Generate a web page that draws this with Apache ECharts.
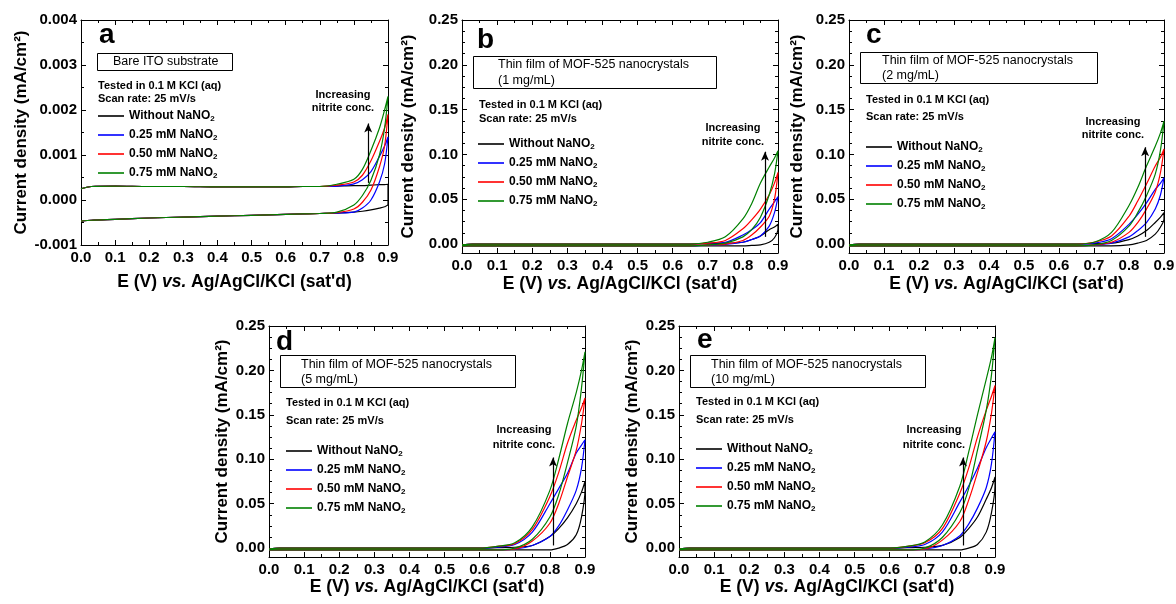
<!DOCTYPE html>
<html>
<head>
<meta charset="utf-8">
<script src="https://cdn.jsdelivr.net/npm/echarts@6/dist/echarts.min.js"></script>
<style>
html,body{margin:0;padding:0;background:#fff;}
#chart{width:1176px;height:604px;}
</style>
</head>
<body>
<div id="chart"></div>
<script>
// ---------------- DATA ----------------
const E = [0, 0.03, 0.1, 0.2, 0.3, 0.4, 0.5, 0.6, 0.65, 0.7, 0.75, 0.8, 0.825, 0.85, 0.875, 0.89, 0.9];
const SERIES_NAMES = ['Without NaNO2', '0.25 mM NaNO2', '0.50 mM NaNO2', '0.75 mM NaNO2'];
const X_TICKS = [0, 0.1, 0.2, 0.3, 0.4, 0.5, 0.6, 0.7, 0.8, 0.9];
const Y_TICKS_A = [-0.001, 0, 0.001, 0.002, 0.003, 0.004];
const Y_TICKS = [0, 0.05, 0.1, 0.15, 0.2, 0.25];
const Y_MINOR = [0.0125, 0.025, 0.0375, 0.0625, 0.075, 0.0875, 0.1125, 0.125, 0.1375, 0.1625, 0.175, 0.1875, 0.2125, 0.225, 0.2375];
const PANEL_LETTERS = ['a', 'b', 'c', 'd', 'e'];
const PANEL_BOX = [['Bare ITO substrate'],
  ['Thin film of MOF-525 nanocrystals', '(1 mg/mL)'],
  ['Thin film of MOF-525 nanocrystals', '(2 mg/mL)'],
  ['Thin film of MOF-525 nanocrystals', '(5 mg/mL)'],
  ['Thin film of MOF-525 nanocrystals', '(10 mg/mL)']];
const NOTE_1 = 'Tested in 0.1 M KCl (aq)';
const NOTE_2 = 'Scan rate: 25 mV/s';
const ARROW_TEXT = ['Increasing', 'nitrite conc.'];
const ARROW_X = [0.842, 0.863, 0.846, 0.809, 0.809];
const ARROW_Y0 = [0.00038, 0.008, 0.008, 0.003, 0.003];
const ARROW_Y1 = [0.0017, 0.103, 0.108, 0.102, 0.102];

// Panel a (bare ITO): return (inner) and forward (outer) branches, rows: black, blue, red, green
const aInner = [
  [-0.00047,-0.00045,-0.00043,-0.0004,-0.00038,-0.00036,-0.00034,-0.00032,-0.00031,-0.0003,-0.00029,-0.00027,-0.00025,-0.00022,-0.00018,-0.00015,-0.0001],
  [-0.00047,-0.00045,-0.00043,-0.0004,-0.00038,-0.00036,-0.00034,-0.00032,-0.00031,-0.0003,-0.00029,-0.00027,-0.00018,0.0,0.0004,0.0008,0.0014],
  [-0.00047,-0.00045,-0.00043,-0.0004,-0.00038,-0.00036,-0.00034,-0.00032,-0.00031,-0.0003,-0.00028,-0.0002,-0.00005,0.00022,0.00074,0.0012,0.0019],
  [-0.00047,-0.00045,-0.00043,-0.0004,-0.00038,-0.00036,-0.00034,-0.00032,-0.00031,-0.0003,-0.00027,-0.00011,0.0001,0.00044,0.001,0.0016,0.0023]
];
const aOuter = [
  [0.00025,0.0003,0.00031,0.0003,0.0003,0.00029,0.00029,0.00029,0.0003,0.0003,0.00031,0.00032,0.00032,0.00033,0.00034,0.00034,0.00035],
  [0.00025,0.0003,0.00031,0.0003,0.0003,0.00029,0.00029,0.00029,0.0003,0.0003,0.00031,0.00036,0.00045,0.00063,0.00097,0.0012,0.0014],
  [0.00025,0.0003,0.00031,0.0003,0.0003,0.00029,0.00029,0.00029,0.0003,0.0003,0.00033,0.0004,0.00055,0.00087,0.0013,0.0016,0.0019],
  [0.00025,0.0003,0.00031,0.0003,0.0003,0.00029,0.00029,0.00029,0.0003,0.0003,0.00035,0.00046,0.00068,0.0011,0.0016,0.002,0.0023]
];
// Panel b (1 mg/mL)
const bInner = [
  [-0.002,-0.002,-0.002,-0.002,-0.002,-0.002,-0.002,-0.002,-0.002,-0.002,-0.002,-0.002,-0.0015,-0.001,0.002,0.007,0.017],
  [-0.002,-0.002,-0.002,-0.002,-0.002,-0.002,-0.002,-0.002,-0.002,-0.001,-0.0005,0.002,0.005,0.009,0.02,0.035,0.053],
  [-0.002,-0.002,-0.002,-0.002,-0.002,-0.002,-0.002,-0.002,-0.002,-0.001,0.0,0.004,0.01,0.019,0.031,0.05,0.08],
  [-0.002,-0.002,-0.002,-0.002,-0.002,-0.002,-0.002,-0.002,-0.002,-0.001,0.001,0.008,0.016,0.03,0.055,0.078,0.104]
];
const bOuter = [
  [-0.001,0,0,0,0,0,0,0,0,0.0005,0.001,0.002,0.005,0.009,0.016,0.019,0.022],
  [-0.001,0,0,0,0,0,0,0,0,0.001,0.002,0.01,0.016,0.024,0.039,0.047,0.053],
  [-0.001,0,0,0,0,0,0,0,0,0.001,0.004,0.017,0.027,0.039,0.055,0.068,0.08],
  [-0.001,0,0,0,0,0,0,0,0,0.002,0.008,0.028,0.045,0.068,0.086,0.096,0.104]
];
// Panel c (2 mg/mL)
const cInner = [
  [-0.002,-0.002,-0.002,-0.002,-0.002,-0.002,-0.002,-0.002,-0.002,-0.002,-0.002,-0.001,0.001,0.004,0.011,0.019,0.028],
  [-0.002,-0.002,-0.002,-0.002,-0.002,-0.002,-0.002,-0.002,-0.002,-0.001,0.001,0.008,0.015,0.024,0.039,0.055,0.074],
  [-0.002,-0.002,-0.002,-0.002,-0.002,-0.002,-0.002,-0.002,-0.002,-0.001,0.002,0.013,0.024,0.039,0.058,0.08,0.106],
  [-0.002,-0.002,-0.002,-0.002,-0.002,-0.002,-0.002,-0.002,-0.002,-0.001,0.004,0.02,0.035,0.054,0.078,0.105,0.137]
];
const cOuter = [
  [-0.001,0,0,0,0,0,0,0,0,0.0005,0.001,0.005,0.009,0.015,0.024,0.03,0.035],
  [-0.001,0,0,0,0,0,0,0,0,0.001,0.006,0.022,0.033,0.046,0.061,0.068,0.074],
  [-0.001,0,0,0,0,0,0,0,0,0.002,0.009,0.031,0.048,0.067,0.087,0.097,0.106],
  [-0.001,0,0,0,0,0,0,0,0,0.002,0.013,0.043,0.063,0.087,0.109,0.124,0.137]
];
// Panel d (5 mg/mL)
const dInner = [
  [-0.002,-0.002,-0.002,-0.002,-0.002,-0.002,-0.002,-0.002,-0.002,-0.002,-0.002,-0.002,0.0,0.004,0.015,0.035,0.065],
  [-0.002,-0.002,-0.002,-0.002,-0.002,-0.002,-0.002,-0.002,-0.002,-0.001,0.003,0.013,0.025,0.043,0.065,0.09,0.122],
  [-0.002,-0.002,-0.002,-0.002,-0.002,-0.002,-0.002,-0.002,-0.002,-0.001,0.008,0.028,0.05,0.08,0.11,0.14,0.169],
  [-0.002,-0.002,-0.002,-0.002,-0.002,-0.002,-0.002,-0.002,-0.002,0.0,0.01,0.035,0.06,0.096,0.137,0.18,0.221]
];
const dOuter = [
  [-0.001,0,0,0,0,0,0,0,0.0005,0.001,0.003,0.013,0.022,0.034,0.05,0.063,0.075],
  [-0.001,0,0,0,0,0,0,0,0.001,0.004,0.018,0.05,0.067,0.084,0.107,0.116,0.122],
  [-0.001,0,0,0,0,0,0,0,0.002,0.005,0.021,0.058,0.085,0.118,0.144,0.158,0.169],
  [-0.001,0,0,0,0,0,0,0,0.002,0.006,0.024,0.065,0.1,0.14,0.175,0.2,0.221]
];
// Panel e (10 mg/mL)
const eInner = [
  [-0.002,-0.002,-0.002,-0.002,-0.002,-0.002,-0.002,-0.002,-0.002,-0.002,-0.002,-0.002,0.0,0.004,0.018,0.04,0.07],
  [-0.002,-0.002,-0.002,-0.002,-0.002,-0.002,-0.002,-0.002,-0.002,-0.001,0.003,0.014,0.027,0.045,0.068,0.095,0.131],
  [-0.002,-0.002,-0.002,-0.002,-0.002,-0.002,-0.002,-0.002,-0.002,-0.001,0.009,0.03,0.054,0.085,0.12,0.152,0.183],
  [-0.002,-0.002,-0.002,-0.002,-0.002,-0.002,-0.002,-0.002,-0.002,0.0,0.012,0.04,0.067,0.11,0.155,0.195,0.237]
];
const eOuter = [
  [-0.001,0,0,0,0,0,0,0,0.0005,0.001,0.003,0.012,0.022,0.035,0.055,0.068,0.08],
  [-0.001,0,0,0,0,0,0,0,0.001,0.004,0.018,0.052,0.07,0.09,0.113,0.124,0.131],
  [-0.001,0,0,0,0,0,0,0,0.002,0.006,0.022,0.062,0.09,0.125,0.155,0.171,0.183],
  [-0.001,0,0,0,0,0,0,0,0.002,0.007,0.026,0.07,0.108,0.15,0.19,0.215,0.237]
];

// ---------------- STYLE / LAYOUT ----------------
const FONT = '"Liberation Sans", Arial, Helvetica, sans-serif';
const COLORS = ['#000000', '#0000ff', '#ff0000', '#008000'];
const INNER = [aInner, bInner, cInner, dInner, eInner];
const OUTER = [aOuter, bOuter, cOuter, dOuter, eOuter];
const GRIDS = [
  {left: 81, top: 20, width: 307, height: 225},
  {left: 462, top: 20, width: 316, height: 233},
  {left: 849, top: 20, width: 315, height: 233},
  {left: 269, top: 326, width: 316, height: 231},
  {left: 679, top: 326, width: 316, height: 231}
];
const Y_NAME_GAP = [51, 45, 43, 38, 38];
const X_NAME_GAP = [28, 22, 22, 15, 15];
const LEGEND_POS = [[98, 109], [478, 137], [866, 140], [286, 444], [696, 442]];
const BOX = [[97, 53, 135, 17], [473, 56, 243, 32], [860, 52, 237, 31], [280, 355, 235, 32], [690, 355, 235, 32]];
const BOX_TEXT = [[113, 62, 0], [498, 65, 81], [882, 61, 76], [301, 365, 380], [711, 365, 380]];
const NOTE_POS = [[98, 86, 99], [479, 105, 119], [866, 100, 117], [286, 403, 421], [696, 402, 420]];
const ARROW_TXT_POS = [[343, 95, 108], [733, 128, 142], [1113, 122, 135], [524, 430, 445], [934, 430, 445]];
const LETTER_POS = [[99, 43], [477, 48], [866, 43], [276, 350], [697, 348]];
// thin horizontal line used as legend key (bounding box 26 x 14)
const LEGEND_ICON = 'path://M0,0 M26,14 M0,6.2 L26,6.2 L26,7.8 L0,7.8 Z';

function loop(inner, outer) {
  const pts = [];
  E.forEach((x, i) => pts.push([x, inner[i]]));
  for (let i = E.length - 1; i >= 0; i--) pts.push([E[i], outer[i]]);
  return pts;
}

const grid = GRIDS.map(g => Object.assign({show: false, outerBoundsMode: 'none', containLabel: false}, g));
const xAxis = [];
const yAxis = [];
const series = [];
const legend = [];
const graphic = [];
const yMain = [];

GRIDS.forEach((g, p) => {
  // bottom x axis
  xAxis.push({
    type: 'value', gridIndex: p, position: 'bottom', min: 0, max: 0.9, interval: 0.1,
    axisLine: {show: true, onZero: false, lineStyle: {color: '#000', width: 1}},
    axisTick: {show: true, inside: true, length: 5, lineStyle: {color: '#000', width: 1}},
    minorTick: {show: true, splitNumber: 2, length: 3, lineStyle: {color: '#000', width: 1}},
    splitLine: {show: false}, minorSplitLine: {show: false},
    axisLabel: {show: true, margin: 5, color: '#000', fontSize: 15, fontWeight: 'bold', fontFamily: FONT,
      formatter: v => v.toFixed(1)},
    name: '{b|E (V) }{i|vs.}{b| Ag/AgCl/KCl (sat\'d)}',
    nameLocation: 'middle', nameGap: X_NAME_GAP[p],
    nameTextStyle: {color: '#000', rich: {
      b: {fontSize: 17.5, fontWeight: 'bold', fontFamily: FONT, color: '#000'},
      i: {fontSize: 17.5, fontWeight: 'bold', fontStyle: 'italic', fontFamily: FONT, color: '#000'}
    }}
  });
  // top x axis (mirror)
  xAxis.push({
    type: 'value', gridIndex: p, position: 'top', min: 0, max: 0.9, interval: 0.1,
    axisLine: {show: true, onZero: false, lineStyle: {color: '#000', width: 1}},
    axisTick: {show: true, inside: true, length: 5, lineStyle: {color: '#000', width: 1}},
    minorTick: {show: true, splitNumber: 2, length: 3, lineStyle: {color: '#000', width: 1}},
    splitLine: {show: false}, axisLabel: {show: false}
  });
  const yName = 'Current density (mA/cm\u00B2)';
  const yNameStyle = {color: '#000', fontSize: 17, fontWeight: 'bold', fontFamily: FONT};
  if (p === 0) {
    yMain.push(yAxis.length);
    ['left', 'right'].forEach((pos, k) => {
      yAxis.push({
        type: 'value', gridIndex: p, position: pos, min: -0.001, max: 0.004, interval: 0.001,
        axisLine: {show: true, onZero: false, lineStyle: {color: '#000', width: 1}},
        axisTick: {show: true, inside: true, length: 5, lineStyle: {color: '#000', width: 1}},
        minorTick: {show: true, splitNumber: 2, length: 3, lineStyle: {color: '#000', width: 1}},
        splitLine: {show: false},
        axisLabel: {show: k === 0, margin: 4, color: '#000', fontSize: 15, fontWeight: 'bold', fontFamily: FONT,
          formatter: v => v.toFixed(3)},
        name: k === 0 ? yName : '', nameLocation: 'middle', nameGap: Y_NAME_GAP[p], nameTextStyle: yNameStyle
      });
    });
  } else {
    yMain.push(yAxis.length);
    ['left', 'right'].forEach((pos, k) => {
      yAxis.push({
        type: 'value', gridIndex: p, position: pos, min: -0.01, max: 0.25,
        axisLine: {show: true, onZero: false, lineStyle: {color: '#000', width: 1}},
        axisTick: {show: true, inside: true, length: 5, customValues: Y_TICKS, lineStyle: {color: '#000', width: 1}},
        splitLine: {show: false},
        axisLabel: {show: k === 0, margin: 4, color: '#000', fontSize: 15, fontWeight: 'bold', fontFamily: FONT,
          customValues: Y_TICKS, formatter: v => v.toFixed(2)},
        name: k === 0 ? yName : '', nameLocation: 'middle', nameGap: Y_NAME_GAP[p], nameTextStyle: yNameStyle
      });
      yAxis.push({
        type: 'value', gridIndex: p, position: pos, min: -0.01, max: 0.25,
        axisLine: {show: false, onZero: false},
        axisTick: {show: true, inside: true, length: 3, customValues: Y_MINOR, lineStyle: {color: '#000', width: 1}},
        splitLine: {show: false},
        axisLabel: {show: false}
      });
    });
  }
  // series
  for (let s = 0; s < 4; s++) {
    const ser = {
      type: 'line', name: SERIES_NAMES[s], xAxisIndex: p * 2, yAxisIndex: yMain[p],
      data: loop(INNER[p][s], OUTER[p][s]),
      symbol: 'none', showSymbol: false, smooth: 0.3, animation: false, silent: true,
      lineStyle: {color: COLORS[s], width: 1.2}, itemStyle: {color: COLORS[s]}
    };
    if (s === 0) {
      ser.markLine = {
        silent: true, symbol: ['none', 'arrow'], symbolSize: [6, 9], animation: false,
        label: {show: false},
        lineStyle: {color: '#000', width: 1.2, type: 'solid'},
        data: [[{coord: [ARROW_X[p], ARROW_Y0[p]]}, {coord: [ARROW_X[p], ARROW_Y1[p]]}]]
      };
    }
    series.push(ser);
  }
  // legend
  legend.push({
    left: LEGEND_POS[p][0], top: LEGEND_POS[p][1], orient: 'vertical',
    itemWidth: 26, itemHeight: 14, itemGap: 5, padding: 0, icon: LEGEND_ICON,
    data: SERIES_NAMES, selectedMode: false,
    formatter: n => n.replace('NaNO2', 'NaNO{sub|2}'),
    textStyle: {color: '#000', fontSize: 12, fontWeight: 'bold', fontFamily: FONT, lineHeight: 14,
      rich: {sub: {fontSize: 8, fontWeight: 'bold', fontFamily: FONT, color: '#000', verticalAlign: 'bottom', lineHeight: 14}}}
  });
  // letter
  graphic.push({type: 'text', x: LETTER_POS[p][0], y: LETTER_POS[p][1] + 6, silent: true,
    style: {text: PANEL_LETTERS[p], font: 'bold 28px ' + FONT, fill: '#000', verticalAlign: 'bottom'}});
  // box
  const b = BOX[p];
  graphic.push({type: 'rect', shape: {x: b[0] + 0.5, y: b[1] + 0.5, width: b[2], height: b[3]}, silent: true,
    style: {fill: '#fff', stroke: '#000', lineWidth: 1}});
  const bt = BOX_TEXT[p];
  PANEL_BOX[p].forEach((t, k) => {
    graphic.push({type: 'text', x: bt[0], y: bt[1 + k], silent: true,
      style: {text: t, font: '12.5px ' + FONT, fill: '#000', verticalAlign: 'middle', align: 'left'}});
  });
  // notes
  const np = NOTE_POS[p];
  graphic.push({type: 'text', x: np[0], y: np[1], silent: true,
    style: {text: NOTE_1, font: 'bold 11px ' + FONT, fill: '#000', verticalAlign: 'middle'}});
  graphic.push({type: 'text', x: np[0], y: np[2], silent: true,
    style: {text: NOTE_2, font: 'bold 11px ' + FONT, fill: '#000', verticalAlign: 'middle'}});
  // arrow text
  const ap = ARROW_TXT_POS[p];
  ARROW_TEXT.forEach((t, k) => {
    graphic.push({type: 'text', x: ap[0], y: ap[1 + k], silent: true,
      style: {text: t, font: 'bold 11px ' + FONT, fill: '#000', align: 'center', verticalAlign: 'middle'}});
  });
});

const chart = echarts.init(document.getElementById('chart'), null, {renderer: 'canvas'});
chart.setOption({
  backgroundColor: '#ffffff',
  animation: false,
  grid, xAxis, yAxis, series, legend, graphic
});
</script>
</body>
</html>
